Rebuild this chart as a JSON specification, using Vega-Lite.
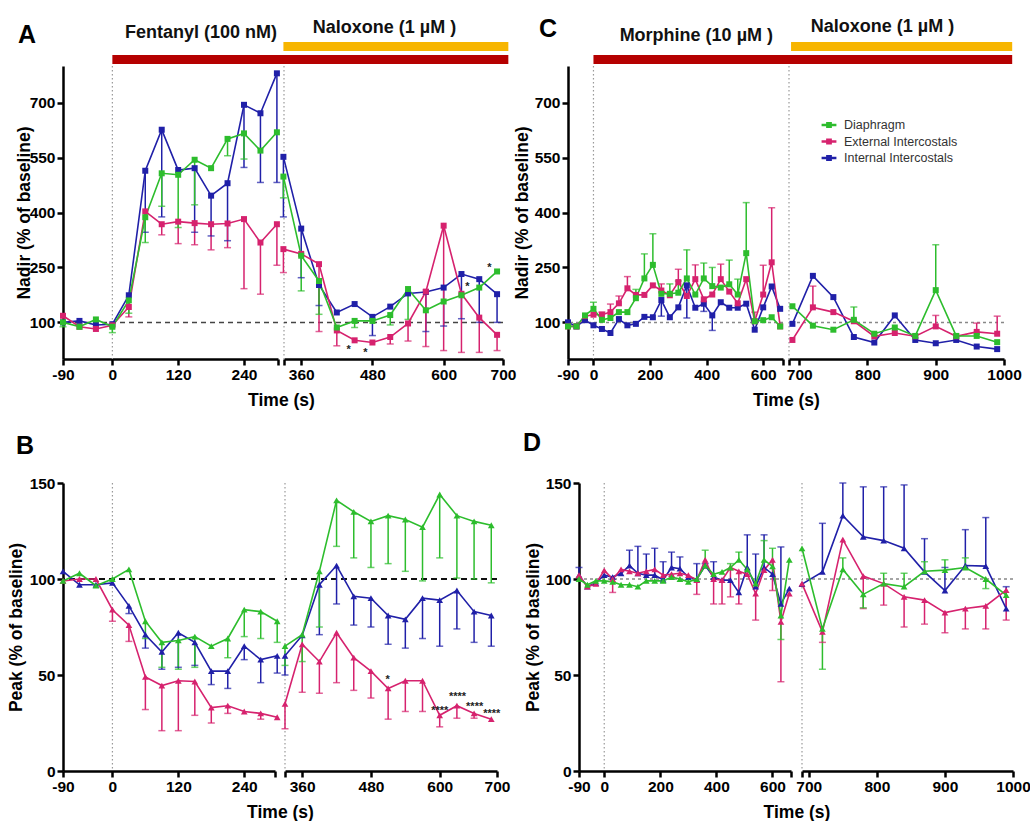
{
"$schema":"https://vega.github.io/schema/vega-lite/v6.json",
"background":"white",
"padding":{"left":7,"top":17,"right":0,"bottom":0},
"bounds":"flush",
"align":"each",
"columns":7,
"spacing":{"row":0,"column":0},
"config":{
 "view":{"stroke":null},
 "font":"Liberation Sans",
 "title":{"font":"Liberation Sans"},
 "axis":{"domainColor":"#000","domainWidth":2.5,"tickColor":"#000","tickWidth":2.5,"tickSize":6,"labelFont":"Liberation Sans","labelFontSize":15.5,"labelFontWeight":"bold","labelColor":"#000","titleFont":"Liberation Sans","titleFontSize":17.5,"titleFontWeight":"bold","titleColor":"#000","grid":false,"labelPadding":2,"labelFlush":false,"labelOverlap":false}
},
"datasets":{
"bars":[
{"p":"A1","drug":"Opioid","start":0,"end":313},
{"p":"A2","drug":"Opioid","start":320,"end":709},
{"p":"A2","drug":"Naloxone","start":330,"end":709},
{"p":"C1","drug":"Opioid","start":0,"end":692},
{"p":"C2","drug":"Opioid","start":676,"end":1012},
{"p":"C2","drug":"Naloxone","start":688,"end":1012}
],
"stars":[
{"p":"A2","t":440,"v":33,"s":"*"},{"p":"A2","t":468,"v":24,"s":"*"},{"p":"A2","t":640,"v":206,"s":"*"},{"p":"A2","t":677,"v":257,"s":"*"},
{"p":"B2","t":509,"v":49,"s":"*"},{"p":"B2","t":600,"v":33,"s":"****"},{"p":"B2","t":631,"v":40,"s":"****"},{"p":"B2","t":661,"v":35,"s":"****"},{"p":"B2","t":691,"v":31,"s":"****"}
],
"d":[
{"p":"A1","t":-90,"m":"I","v":100},{"p":"A1","t":-90,"m":"E","v":118},{"p":"A1","t":-90,"m":"D","v":100,"e":88},
{"p":"A1","t":-60,"m":"I","v":104},{"p":"A1","t":-60,"m":"E","v":88},{"p":"A1","t":-60,"m":"D","v":88},
{"p":"A1","t":-30,"m":"I","v":93},{"p":"A1","t":-30,"m":"E","v":82},{"p":"A1","t":-30,"m":"D","v":108},
{"p":"A1","t":0,"m":"I","v":95},{"p":"A1","t":0,"m":"E","v":92},{"p":"A1","t":0,"m":"D","v":88,"e":72},
{"p":"A1","t":30,"m":"I","v":174},{"p":"A1","t":30,"m":"E","v":142,"e":115},{"p":"A1","t":30,"m":"D","v":160,"e":125},
{"p":"A1","t":60,"m":"I","v":514,"e":346},{"p":"A1","t":60,"m":"E","v":403},{"p":"A1","t":60,"m":"D","v":387,"e":318},
{"p":"A1","t":90,"m":"I","v":626,"e":388},{"p":"A1","t":90,"m":"E","v":368,"e":339},{"p":"A1","t":90,"m":"D","v":507,"e":417},
{"p":"A1","t":120,"m":"I","v":516},{"p":"A1","t":120,"m":"E","v":375,"e":315},{"p":"A1","t":120,"m":"D","v":503,"e":359},
{"p":"A1","t":150,"m":"I","v":521,"e":346},{"p":"A1","t":150,"m":"E","v":371,"e":312},{"p":"A1","t":150,"m":"D","v":544,"e":421},
{"p":"A1","t":180,"m":"I","v":446,"e":336},{"p":"A1","t":180,"m":"E","v":368,"e":298},{"p":"A1","t":180,"m":"D","v":521},
{"p":"A1","t":210,"m":"I","v":480,"e":323},{"p":"A1","t":210,"m":"E","v":370,"e":304},{"p":"A1","t":210,"m":"D","v":601,"e":555},
{"p":"A1","t":240,"m":"I","v":694,"e":523},{"p":"A1","t":240,"m":"E","v":382,"e":192},{"p":"A1","t":240,"m":"D","v":616,"e":546},
{"p":"A1","t":270,"m":"I","v":671,"e":482},{"p":"A1","t":270,"m":"E","v":318,"e":177},{"p":"A1","t":270,"m":"D","v":569},
{"p":"A1","t":300,"m":"I","v":780,"e":482},{"p":"A1","t":300,"m":"E","v":368,"e":256},{"p":"A1","t":300,"m":"D","v":619},
{"p":"A2","t":330,"m":"I","v":552,"e":388},{"p":"A2","t":330,"m":"E","v":300,"e":236},{"p":"A2","t":330,"m":"D","v":498,"e":440},
{"p":"A2","t":360,"m":"I","v":356,"e":222},{"p":"A2","t":360,"m":"E","v":287},{"p":"A2","t":360,"m":"D","v":282,"e":186},
{"p":"A2","t":390,"m":"I","v":202,"e":146},{"p":"A2","t":390,"m":"E","v":259,"e":75},{"p":"A2","t":390,"m":"D","v":213,"e":122},
{"p":"A2","t":420,"m":"I","v":127},{"p":"A2","t":420,"m":"E","v":78,"e":36},{"p":"A2","t":420,"m":"D","v":86},
{"p":"A2","t":450,"m":"I","v":150},{"p":"A2","t":450,"m":"E","v":51},{"p":"A2","t":450,"m":"D","v":104,"e":86},
{"p":"A2","t":480,"m":"I","v":115,"e":64},{"p":"A2","t":480,"m":"E","v":45},{"p":"A2","t":480,"m":"D","v":104},
{"p":"A2","t":510,"m":"I","v":143},{"p":"A2","t":510,"m":"E","v":60,"e":41},{"p":"A2","t":510,"m":"D","v":120,"e":93},
{"p":"A2","t":540,"m":"I","v":179},{"p":"A2","t":540,"m":"E","v":97,"e":49},{"p":"A2","t":540,"m":"D","v":191,"e":108},
{"p":"A2","t":570,"m":"I","v":183,"e":75},{"p":"A2","t":570,"m":"E","v":184,"e":34},{"p":"A2","t":570,"m":"D","v":133},
{"p":"A2","t":600,"m":"I","v":195,"e":90},{"p":"A2","t":600,"m":"E","v":364,"e":23},{"p":"A2","t":600,"m":"D","v":157},
{"p":"A2","t":630,"m":"I","v":232,"e":110},{"p":"A2","t":630,"m":"E","v":178,"e":18},{"p":"A2","t":630,"m":"D","v":174},
{"p":"A2","t":660,"m":"I","v":218,"e":100},{"p":"A2","t":660,"m":"E","v":113,"e":18},{"p":"A2","t":660,"m":"D","v":195},
{"p":"A2","t":690,"m":"I","v":177,"e":100},{"p":"A2","t":690,"m":"E","v":66,"e":23},{"p":"A2","t":690,"m":"D","v":239},
{"p":"B1","t":-90,"m":"I","v":104},{"p":"B1","t":-90,"m":"E","v":99},{"p":"B1","t":-90,"m":"D","v":99},
{"p":"B1","t":-60,"m":"I","v":97},{"p":"B1","t":-60,"m":"E","v":100},{"p":"B1","t":-60,"m":"D","v":103},
{"p":"B1","t":-30,"m":"I","v":97},{"p":"B1","t":-30,"m":"E","v":100},{"p":"B1","t":-30,"m":"D","v":96.5},
{"p":"B1","t":0,"m":"I","v":98},{"p":"B1","t":0,"m":"E","v":84,"e":78},{"p":"B1","t":0,"m":"D","v":100},
{"p":"B1","t":30,"m":"I","v":86,"e":82},{"p":"B1","t":30,"m":"E","v":76,"e":67.5},{"p":"B1","t":30,"m":"D","v":105},
{"p":"B1","t":60,"m":"I","v":71,"e":64},{"p":"B1","t":60,"m":"E","v":49,"e":32},{"p":"B1","t":60,"m":"D","v":78,"e":69},
{"p":"B1","t":90,"m":"I","v":62,"e":53},{"p":"B1","t":90,"m":"E","v":44.5,"e":21},{"p":"B1","t":90,"m":"D","v":67,"e":54},
{"p":"B1","t":120,"m":"I","v":72,"e":54},{"p":"B1","t":120,"m":"E","v":47,"e":21},{"p":"B1","t":120,"m":"D","v":68,"e":53},
{"p":"B1","t":150,"m":"I","v":67,"e":55},{"p":"B1","t":150,"m":"E","v":46.6,"e":29},{"p":"B1","t":150,"m":"D","v":70,"e":54},
{"p":"B1","t":180,"m":"I","v":52,"e":45},{"p":"B1","t":180,"m":"E","v":33,"e":25},{"p":"B1","t":180,"m":"D","v":65},
{"p":"B1","t":210,"m":"I","v":52,"e":43},{"p":"B1","t":210,"m":"E","v":34,"e":30},{"p":"B1","t":210,"m":"D","v":69,"e":59},
{"p":"B1","t":240,"m":"I","v":65,"e":58},{"p":"B1","t":240,"m":"E","v":31},{"p":"B1","t":240,"m":"D","v":84,"e":70},
{"p":"B1","t":270,"m":"I","v":58,"e":46},{"p":"B1","t":270,"m":"E","v":30,"e":27},{"p":"B1","t":270,"m":"D","v":83,"e":69},
{"p":"B1","t":300,"m":"I","v":60,"e":51},{"p":"B1","t":300,"m":"E","v":28},{"p":"B1","t":300,"m":"D","v":78,"e":67},
{"p":"B2","t":330,"m":"I","v":60,"e":50},{"p":"B2","t":330,"m":"E","v":35,"e":22},{"p":"B2","t":330,"m":"D","v":65,"e":55},
{"p":"B2","t":360,"m":"I","v":70.6},{"p":"B2","t":360,"m":"E","v":66,"e":41},{"p":"B2","t":360,"m":"D","v":71,"e":57},
{"p":"B2","t":390,"m":"I","v":97,"e":71},{"p":"B2","t":390,"m":"E","v":57,"e":40.5},{"p":"B2","t":390,"m":"D","v":104,"e":75},
{"p":"B2","t":420,"m":"I","v":107,"e":87},{"p":"B2","t":420,"m":"E","v":72,"e":46},{"p":"B2","t":420,"m":"D","v":141,"e":117},
{"p":"B2","t":450,"m":"I","v":91,"e":76},{"p":"B2","t":450,"m":"E","v":59,"e":42},{"p":"B2","t":450,"m":"D","v":135,"e":111},
{"p":"B2","t":480,"m":"I","v":90,"e":75},{"p":"B2","t":480,"m":"E","v":52,"e":38},{"p":"B2","t":480,"m":"D","v":130,"e":106},
{"p":"B2","t":510,"m":"I","v":81,"e":66},{"p":"B2","t":510,"m":"E","v":43,"e":27},{"p":"B2","t":510,"m":"D","v":133,"e":108},
{"p":"B2","t":540,"m":"I","v":79,"e":64},{"p":"B2","t":540,"m":"E","v":47,"e":31},{"p":"B2","t":540,"m":"D","v":131,"e":104},
{"p":"B2","t":570,"m":"I","v":90,"e":69},{"p":"B2","t":570,"m":"E","v":47,"e":31},{"p":"B2","t":570,"m":"D","v":127,"e":99},
{"p":"B2","t":600,"m":"I","v":89,"e":65},{"p":"B2","t":600,"m":"E","v":29,"e":23},{"p":"B2","t":600,"m":"D","v":144,"e":111},
{"p":"B2","t":630,"m":"I","v":94,"e":74},{"p":"B2","t":630,"m":"E","v":34,"e":27.5},{"p":"B2","t":630,"m":"D","v":133,"e":100.5},
{"p":"B2","t":660,"m":"I","v":83,"e":67},{"p":"B2","t":660,"m":"E","v":30,"e":27.5},{"p":"B2","t":660,"m":"D","v":130,"e":100},
{"p":"B2","t":690,"m":"I","v":81,"e":65},{"p":"B2","t":690,"m":"E","v":27},{"p":"B2","t":690,"m":"D","v":128,"e":98},
{"p":"C1","t":-90,"m":"I","v":100},{"p":"C1","t":-90,"m":"E","v":89},{"p":"C1","t":-90,"m":"D","v":89},
{"p":"C1","t":-60,"m":"I","v":89},{"p":"C1","t":-60,"m":"E","v":89},{"p":"C1","t":-60,"m":"D","v":89},
{"p":"C1","t":-30,"m":"I","v":106},{"p":"C1","t":-30,"m":"E","v":117},{"p":"C1","t":-30,"m":"D","v":119},
{"p":"C1","t":0,"m":"I","v":92},{"p":"C1","t":0,"m":"E","v":121},{"p":"C1","t":0,"m":"D","v":137,"e":155},
{"p":"C1","t":30,"m":"I","v":82},{"p":"C1","t":30,"m":"E","v":121,"e":128},{"p":"C1","t":30,"m":"D","v":107},
{"p":"C1","t":60,"m":"I","v":71},{"p":"C1","t":60,"m":"E","v":128,"e":150},{"p":"C1","t":60,"m":"D","v":112},
{"p":"C1","t":90,"m":"I","v":109},{"p":"C1","t":90,"m":"E","v":152,"e":172},{"p":"C1","t":90,"m":"D","v":128},
{"p":"C1","t":120,"m":"I","v":92},{"p":"C1","t":120,"m":"E","v":193,"e":225},{"p":"C1","t":120,"m":"D","v":128},
{"p":"C1","t":150,"m":"I","v":96},{"p":"C1","t":150,"m":"E","v":175},{"p":"C1","t":150,"m":"D","v":166,"e":190},
{"p":"C1","t":180,"m":"I","v":115},{"p":"C1","t":180,"m":"E","v":175},{"p":"C1","t":180,"m":"D","v":220,"e":287},
{"p":"C1","t":210,"m":"I","v":114},{"p":"C1","t":210,"m":"E","v":201},{"p":"C1","t":210,"m":"D","v":257,"e":342},
{"p":"C1","t":240,"m":"I","v":161,"e":117},{"p":"C1","t":240,"m":"E","v":187,"e":205},{"p":"C1","t":240,"m":"D","v":178},
{"p":"C1","t":270,"m":"I","v":114},{"p":"C1","t":270,"m":"E","v":174},{"p":"C1","t":270,"m":"D","v":178,"e":205},
{"p":"C1","t":300,"m":"I","v":141},{"p":"C1","t":300,"m":"E","v":210,"e":245},{"p":"C1","t":300,"m":"D","v":181,"e":213},
{"p":"C1","t":330,"m":"I","v":201,"e":112},{"p":"C1","t":330,"m":"E","v":172},{"p":"C1","t":330,"m":"D","v":220,"e":298},
{"p":"C1","t":360,"m":"I","v":140},{"p":"C1","t":360,"m":"E","v":218,"e":257},{"p":"C1","t":360,"m":"D","v":176},
{"p":"C1","t":390,"m":"I","v":151,"e":130},{"p":"C1","t":390,"m":"E","v":163},{"p":"C1","t":390,"m":"D","v":220,"e":262},
{"p":"C1","t":420,"m":"I","v":119,"e":78},{"p":"C1","t":420,"m":"E","v":176},{"p":"C1","t":420,"m":"D","v":199,"e":250},
{"p":"C1","t":450,"m":"I","v":155},{"p":"C1","t":450,"m":"E","v":218,"e":259},{"p":"C1","t":450,"m":"D","v":195},
{"p":"C1","t":480,"m":"I","v":140},{"p":"C1","t":480,"m":"E","v":184},{"p":"C1","t":480,"m":"D","v":204,"e":270},
{"p":"C1","t":510,"m":"I","v":140},{"p":"C1","t":510,"m":"E","v":152},{"p":"C1","t":510,"m":"D","v":176,"e":218},
{"p":"C1","t":540,"m":"I","v":151},{"p":"C1","t":540,"m":"E","v":218},{"p":"C1","t":540,"m":"D","v":289,"e":427},
{"p":"C1","t":570,"m":"I","v":80},{"p":"C1","t":570,"m":"E","v":103,"e":128},{"p":"C1","t":570,"m":"D","v":103},
{"p":"C1","t":600,"m":"I","v":141},{"p":"C1","t":600,"m":"E","v":176,"e":256},{"p":"C1","t":600,"m":"D","v":106},
{"p":"C1","t":630,"m":"I","v":198},{"p":"C1","t":630,"m":"E","v":264,"e":413},{"p":"C1","t":630,"m":"D","v":114},
{"p":"C1","t":660,"m":"I","v":137},{"p":"C1","t":660,"m":"E","v":89},{"p":"C1","t":660,"m":"D","v":89},
{"p":"C2","t":690,"m":"I","v":96},{"p":"C2","t":690,"m":"E","v":52},{"p":"C2","t":690,"m":"D","v":144},
{"p":"C2","t":720,"m":"I","v":227},{"p":"C2","t":720,"m":"E","v":141,"e":199},{"p":"C2","t":720,"m":"D","v":91},
{"p":"C2","t":750,"m":"I","v":169},{"p":"C2","t":750,"m":"E","v":128},{"p":"C2","t":750,"m":"D","v":80},
{"p":"C2","t":780,"m":"I","v":60},{"p":"C2","t":780,"m":"E","v":103},{"p":"C2","t":780,"m":"D","v":107,"e":142},
{"p":"C2","t":810,"m":"I","v":45},{"p":"C2","t":810,"m":"E","v":62},{"p":"C2","t":810,"m":"D","v":69},
{"p":"C2","t":840,"m":"I","v":119},{"p":"C2","t":840,"m":"E","v":71},{"p":"C2","t":840,"m":"D","v":86},
{"p":"C2","t":870,"m":"I","v":52},{"p":"C2","t":870,"m":"E","v":62},{"p":"C2","t":870,"m":"D","v":63},
{"p":"C2","t":900,"m":"I","v":43},{"p":"C2","t":900,"m":"E","v":89,"e":119},{"p":"C2","t":900,"m":"D","v":188,"e":312},
{"p":"C2","t":930,"m":"I","v":52},{"p":"C2","t":930,"m":"E","v":62},{"p":"C2","t":930,"m":"D","v":63},
{"p":"C2","t":960,"m":"I","v":34},{"p":"C2","t":960,"m":"E","v":74,"e":98},{"p":"C2","t":960,"m":"D","v":63},
{"p":"C2","t":990,"m":"I","v":27},{"p":"C2","t":990,"m":"E","v":69,"e":117},{"p":"C2","t":990,"m":"D","v":46},
{"p":"D1","t":-90,"m":"I","v":102,"e":106},{"p":"D1","t":-90,"m":"E","v":102},{"p":"D1","t":-90,"m":"D","v":100},
{"p":"D1","t":-60,"m":"I","v":96},{"p":"D1","t":-60,"m":"E","v":96},{"p":"D1","t":-60,"m":"D","v":97},
{"p":"D1","t":-30,"m":"I","v":98},{"p":"D1","t":-30,"m":"E","v":97.5},{"p":"D1","t":-30,"m":"D","v":99},
{"p":"D1","t":0,"m":"I","v":102},{"p":"D1","t":0,"m":"E","v":104.5},{"p":"D1","t":0,"m":"D","v":99},
{"p":"D1","t":30,"m":"I","v":101},{"p":"D1","t":30,"m":"E","v":100,"e":93},{"p":"D1","t":30,"m":"D","v":98.5},
{"p":"D1","t":60,"m":"I","v":103},{"p":"D1","t":60,"m":"E","v":105},{"p":"D1","t":60,"m":"D","v":97},
{"p":"D1","t":90,"m":"I","v":107,"e":115},{"p":"D1","t":90,"m":"E","v":104},{"p":"D1","t":90,"m":"D","v":97},
{"p":"D1","t":120,"m":"I","v":103,"e":117},{"p":"D1","t":120,"m":"E","v":103},{"p":"D1","t":120,"m":"D","v":96},
{"p":"D1","t":150,"m":"I","v":102,"e":113},{"p":"D1","t":150,"m":"E","v":104},{"p":"D1","t":150,"m":"D","v":99},
{"p":"D1","t":180,"m":"I","v":102,"e":116},{"p":"D1","t":180,"m":"E","v":105},{"p":"D1","t":180,"m":"D","v":99},
{"p":"D1","t":210,"m":"I","v":99.5,"e":109},{"p":"D1","t":210,"m":"E","v":102},{"p":"D1","t":210,"m":"D","v":99},
{"p":"D1","t":240,"m":"I","v":106,"e":114},{"p":"D1","t":240,"m":"E","v":102.5},{"p":"D1","t":240,"m":"D","v":101},
{"p":"D1","t":270,"m":"I","v":105.4,"e":111.5},{"p":"D1","t":270,"m":"E","v":103},{"p":"D1","t":270,"m":"D","v":100},
{"p":"D1","t":300,"m":"I","v":101},{"p":"D1","t":300,"m":"E","v":102},{"p":"D1","t":300,"m":"D","v":98.5},
{"p":"D1","t":330,"m":"I","v":99.8,"e":108},{"p":"D1","t":330,"m":"E","v":99.4,"e":92},{"p":"D1","t":330,"m":"D","v":100},
{"p":"D1","t":360,"m":"I","v":107,"e":108},{"p":"D1","t":360,"m":"E","v":110},{"p":"D1","t":360,"m":"D","v":107,"e":115},
{"p":"D1","t":390,"m":"I","v":101,"e":109},{"p":"D1","t":390,"m":"E","v":100,"e":87},{"p":"D1","t":390,"m":"D","v":102.5},
{"p":"D1","t":420,"m":"I","v":99.4},{"p":"D1","t":420,"m":"E","v":99.4,"e":87},{"p":"D1","t":420,"m":"D","v":103.7},
{"p":"D1","t":450,"m":"I","v":99.4},{"p":"D1","t":450,"m":"E","v":106,"e":90.7},{"p":"D1","t":450,"m":"D","v":106,"e":108},
{"p":"D1","t":480,"m":"I","v":93},{"p":"D1","t":480,"m":"E","v":104,"e":87},{"p":"D1","t":480,"m":"D","v":110,"e":114},
{"p":"D1","t":510,"m":"I","v":106,"e":123},{"p":"D1","t":510,"m":"E","v":102.5},{"p":"D1","t":510,"m":"D","v":105},
{"p":"D1","t":540,"m":"I","v":96,"e":113},{"p":"D1","t":540,"m":"E","v":92.4,"e":78.6},{"p":"D1","t":540,"m":"D","v":97.6},
{"p":"D1","t":570,"m":"I","v":106,"e":123},{"p":"D1","t":570,"m":"E","v":104.6},{"p":"D1","t":570,"m":"D","v":110,"e":120},
{"p":"D1","t":600,"m":"I","v":102.5},{"p":"D1","t":600,"m":"E","v":110,"e":94},{"p":"D1","t":600,"m":"D","v":106.6,"e":116},
{"p":"D1","t":630,"m":"I","v":87,"e":116.7},{"p":"D1","t":630,"m":"E","v":77.7,"e":46.5},{"p":"D1","t":630,"m":"D","v":81,"e":68.5},
{"p":"D1","t":660,"m":"I","v":95},{"p":"D1","t":660,"m":"E","v":92.4},{"p":"D1","t":660,"m":"D","v":110},
{"p":"D2","t":690,"m":"I","v":97.3},{"p":"D2","t":690,"m":"E","v":97.6},{"p":"D2","t":690,"m":"D","v":116},
{"p":"D2","t":720,"m":"I","v":103.7,"e":129},{"p":"D2","t":720,"m":"E","v":72.5,"e":67},{"p":"D2","t":720,"m":"D","v":74,"e":53},
{"p":"D2","t":750,"m":"I","v":133,"e":150},{"p":"D2","t":750,"m":"E","v":120.5},{"p":"D2","t":750,"m":"D","v":105,"e":111},
{"p":"D2","t":780,"m":"I","v":122,"e":148},{"p":"D2","t":780,"m":"E","v":101.5,"e":84.6},{"p":"D2","t":780,"m":"D","v":92,"e":85},
{"p":"D2","t":810,"m":"I","v":120,"e":148},{"p":"D2","t":810,"m":"E","v":97.6,"e":86.4},{"p":"D2","t":810,"m":"D","v":97.6,"e":103},
{"p":"D2","t":840,"m":"I","v":116,"e":149},{"p":"D2","t":840,"m":"E","v":90.7,"e":75},{"p":"D2","t":840,"m":"D","v":96,"e":103},
{"p":"D2","t":870,"m":"I","v":103.7,"e":121},{"p":"D2","t":870,"m":"E","v":89,"e":76.5},{"p":"D2","t":870,"m":"D","v":104,"e":109},
{"p":"D2","t":900,"m":"I","v":94,"e":106},{"p":"D2","t":900,"m":"E","v":82.5,"e":72},{"p":"D2","t":900,"m":"D","v":104.6,"e":110},
{"p":"D2","t":930,"m":"I","v":107,"e":125.7},{"p":"D2","t":930,"m":"E","v":84.6,"e":74},{"p":"D2","t":930,"m":"D","v":106,"e":111},
{"p":"D2","t":960,"m":"I","v":106.7,"e":132},{"p":"D2","t":960,"m":"E","v":86,"e":74},{"p":"D2","t":960,"m":"D","v":100,"e":95},
{"p":"D2","t":990,"m":"I","v":84.6,"e":96},{"p":"D2","t":990,"m":"E","v":94.2,"e":78.6},{"p":"D2","t":990,"m":"D","v":91.6}
]
},
"concat":[
   {"width":215,"height":22,
    "title":{"text":"Fentanyl (100  nM)","anchor":"end","frame":"group","dx":-1,"offset":-14,"baseline":"alphabetic","fontSize":18,"fontWeight":"bold","color":"#111"},
    "data":{"name":"bars"},"transform":[{"filter":"datum.p=='A1'"}],
    "mark":{"type":"bar"},
    "encoding":{"x":{"field":"start","type":"quantitative","scale":{"domain":[-90,302],"nice":false,"zero":false},"axis":null},"x2":{"field":"end"},
     "y":{"field":"drug","type":"nominal","scale":{"domain":["Naloxone","Opioid"],"paddingInner":0.31,"paddingOuter":0},"axis":null},
     "fill":{"field":"drug","type":"nominal","scale":{"domain":["Naloxone","Opioid"],"range":["#F7B500","#B50000"]},"legend":null}}},
   {"width":6,"height":22,"data":{"values":[{}]},"mark":{"type":"text","text":""}},
   {"width":219,"height":22,
    "title":{"text":"Naloxone (1 µM )","anchor":"middle","frame":"group","dx":-9,"offset":-9,"baseline":"alphabetic","fontSize":18,"fontWeight":"bold","color":"#111"},
    "data":{"name":"bars"},"transform":[{"filter":"datum.p=='A2'"}],
    "mark":{"type":"bar"},
    "encoding":{"x":{"field":"start","type":"quantitative","scale":{"domain":[331,700],"nice":false,"zero":false},"axis":null},"x2":{"field":"end"},
     "y":{"field":"drug","type":"nominal","scale":{"domain":["Naloxone","Opioid"],"paddingInner":0.31,"paddingOuter":0},"axis":null},
     "fill":{"field":"drug","type":"nominal","legend":null}}},
   {"width":65,"height":22,"data":{"values":[{}]},"mark":{"type":"text","text":""}},
   {"width":215,"height":22,
    "title":{"text":"Morphine (10 µM )","anchor":"end","frame":"group","dx":-10,"offset":-17,"baseline":"alphabetic","fontSize":18,"fontWeight":"bold","color":"#111"},
    "data":{"name":"bars"},"transform":[{"filter":"datum.p=='C1'"}],
    "mark":{"type":"bar"},
    "encoding":{"x":{"field":"start","type":"quantitative","scale":{"domain":[-90,670],"nice":false,"zero":false},"axis":null},"x2":{"field":"end"},
     "y":{"field":"drug","type":"nominal","scale":{"domain":["Naloxone","Opioid"],"paddingInner":0.31,"paddingOuter":0},"axis":null},
     "fill":{"field":"drug","type":"nominal","legend":null}}},
   {"width":6,"height":22,"data":{"values":[{}]},"mark":{"type":"text","text":""}},
   {"width":215,"height":22,
    "title":{"text":"Naloxone (1 µM )","anchor":"middle","frame":"group","dx":-14,"offset":-8,"baseline":"alphabetic","fontSize":18,"fontWeight":"bold","color":"#111"},
    "data":{"name":"bars"},"transform":[{"filter":"datum.p=='C2'"}],
    "mark":{"type":"bar"},
    "encoding":{"x":{"field":"start","type":"quantitative","scale":{"domain":[685,1000],"nice":false,"zero":false},"axis":null},"x2":{"field":"end"},
     "y":{"field":"drug","type":"nominal","scale":{"domain":["Naloxone","Opioid"],"paddingInner":0.31,"paddingOuter":0},"axis":null},
     "fill":{"field":"drug","type":"nominal","legend":null}}},

   {"width":215,"height":2,"data":{"values":[{}]},"mark":{"type":"text","text":""}},
   {"width":6,"height":2,"data":{"values":[{}]},"mark":{"type":"text","text":""}},
   {"width":219,"height":2,"data":{"values":[{}]},"mark":{"type":"text","text":""}},
   {"width":65,"height":2,"data":{"values":[{}]},"mark":{"type":"text","text":""}},
   {"width":215,"height":2,"data":{"values":[{}]},"mark":{"type":"text","text":""}},
   {"width":6,"height":2,"data":{"values":[{}]},"mark":{"type":"text","text":""}},
   {"width":215,"height":2,"data":{"values":[{}]},"mark":{"type":"text","text":""}},

   {"width":215,"height":293,
    "title":{"text":"A","anchor":"start","frame":"group","dx":-45,"offset":-3,"baseline":"alphabetic","fontSize":25,"fontWeight":"bold","color":"#000"},
    "resolve":{"axis":{"x":"independent","y":"independent"}},
    "layer":[
     {"data":{"values":[{}]},"mark":{"type":"rule","color":"#999","strokeDash":[1.5,2.5],"strokeWidth":1.2},"encoding":{"x":{"datum":0,"type":"quantitative","scale":{"domain":[-90,302],"nice":false,"zero":false},"axis":null}}},
     {"data":{"values":[{}]},"mark":{"type":"rule","color":"#444","strokeDash":[5,4],"strokeWidth":1.5},"encoding":{"y":{"datum":100,"type":"quantitative","scale":{"domain":[0,800],"nice":false},"axis":null}}},
     {"data":{"name":"d"},"transform":[{"filter":"datum.p=='A1' && isValid(datum.e)"}],"mark":{"type":"rule","strokeWidth":1.5},
      "encoding":{"x":{"field":"t","type":"quantitative","axis":null},"y":{"field":"v","type":"quantitative","axis":null},"y2":{"field":"e"},
       "color":{"field":"m","type":"nominal","scale":{"domain":["D","E","I"],"range":["#2DBD2D","#D6226E","#2020A8"]},
        "legend":{"orient":"none","legendX":757,"legendY":74,"title":null,"labelExpr":"datum.label == 'D' ? 'Diaphragm' : datum.label == 'E' ? 'External Intercostals' : 'Internal Intercostals'","symbolType":"M-1,0H1M-0.22,-0.22H0.22V0.22H-0.22Z","symbolSize":220,"symbolStrokeWidth":2.5,"labelFontSize":12.5,"labelFont":"Liberation Sans","labelFontWeight":"normal","labelColor":"#333","rowPadding":0.5,"labelOffset":6}}}},
     {"data":{"name":"d"},"transform":[{"filter":"datum.p=='A1' && isValid(datum.e)"}],"mark":{"type":"tick","orient":"horizontal","size":7,"thickness":1.5},
      "encoding":{"x":{"field":"t","type":"quantitative","axis":null},"y":{"field":"e","type":"quantitative","axis":null},"color":{"field":"m","type":"nominal","legend":null}}},
     {"data":{"name":"d"},"transform":[{"filter":"datum.p=='A1'"}],"mark":{"type":"line","strokeWidth":1.6},
      "encoding":{"x":{"field":"t","type":"quantitative","axis":null},"y":{"field":"v","type":"quantitative","axis":null},"color":{"field":"m","type":"nominal","legend":null}}},
     {"data":{"name":"d"},"transform":[{"filter":"datum.p=='A1'"}],"mark":{"type":"point","shape":"square","filled":true,"size":36,"opacity":1},
      "encoding":{"x":{"field":"t","type":"quantitative","scale":{"domain":[-90,302],"nice":false,"zero":false},"axis":{"values":[-90,0,120,240,302],"labelExpr":"datum.value > 300 ? '' : '' + datum.value","title":"Time (s)","titleX":218,"titleY":41,"titleAlign":"center","titleBaseline":"middle"}},
       "y":{"field":"v","type":"quantitative","scale":{"domain":[0,800],"nice":false},"axis":{"values":[100,250,400,550,700],"title":"Nadir (% of baseline)","titlePadding":-4}},
       "color":{"field":"m","type":"nominal","legend":null}}}
    ]},
   {"width":6,"height":293,"data":{"values":[{}]},"mark":{"type":"text","text":""}},
   {"width":219,"height":293,
    "resolve":{"axis":{"x":"independent","y":"independent"}},
    "layer":[
     {"data":{"values":[{}]},"mark":{"type":"rule","color":"#999","strokeDash":[1.5,2.5],"strokeWidth":1.2},"encoding":{"x":{"datum":331,"type":"quantitative","scale":{"domain":[331,700],"nice":false,"zero":false},"axis":null}}},
     {"data":{"values":[{}]},"mark":{"type":"rule","color":"#444","strokeDash":[5,4],"strokeWidth":1.5},"encoding":{"y":{"datum":100,"type":"quantitative","scale":{"domain":[0,800],"nice":false},"axis":null}}},
     {"data":{"name":"d"},"transform":[{"filter":"datum.p=='A2' && isValid(datum.e)"}],"mark":{"type":"rule","strokeWidth":1.5},
      "encoding":{"x":{"field":"t","type":"quantitative","axis":null},"y":{"field":"v","type":"quantitative","axis":null},"y2":{"field":"e"},"color":{"field":"m","type":"nominal","legend":null}}},
     {"data":{"name":"d"},"transform":[{"filter":"datum.p=='A2' && isValid(datum.e)"}],"mark":{"type":"tick","orient":"horizontal","size":7,"thickness":1.5},
      "encoding":{"x":{"field":"t","type":"quantitative","axis":null},"y":{"field":"e","type":"quantitative","axis":null},"color":{"field":"m","type":"nominal","legend":null}}},
     {"data":{"name":"d"},"transform":[{"filter":"datum.p=='A2'"}],"mark":{"type":"line","strokeWidth":1.6},
      "encoding":{"x":{"field":"t","type":"quantitative","axis":null},"y":{"field":"v","type":"quantitative","axis":null},"color":{"field":"m","type":"nominal","legend":null}}},
     {"data":{"name":"stars"},"transform":[{"filter":"datum.p=='A2'"}],"mark":{"type":"text","fontSize":11,"fontWeight":"bold","color":"#222","baseline":"alphabetic","dy":6},
      "encoding":{"x":{"field":"t","type":"quantitative","axis":null},"y":{"field":"v","type":"quantitative","axis":null},"text":{"field":"s"}}},
     {"data":{"name":"d"},"transform":[{"filter":"datum.p=='A2'"}],"mark":{"type":"point","shape":"square","filled":true,"size":36,"opacity":1},
      "encoding":{"x":{"field":"t","type":"quantitative","scale":{"domain":[331,700],"nice":false,"zero":false},"axis":{"values":[331,360,480,600,700],"labelExpr":"datum.value < 340 ? '' : '' + datum.value","title":null}},
       "y":{"field":"v","type":"quantitative","axis":null},"color":{"field":"m","type":"nominal","legend":null}}}
    ]},
   {"width":65,"height":293,"data":{"values":[{}]},"mark":{"type":"text","text":""}},
   {"width":215,"height":293,
    "title":{"text":"C","anchor":"start","frame":"group","dx":-29,"offset":3,"baseline":"alphabetic","fontSize":25,"fontWeight":"bold","color":"#000"},
    "resolve":{"axis":{"x":"independent","y":"independent"}},
    "layer":[
     {"data":{"values":[{}]},"mark":{"type":"rule","color":"#999","strokeDash":[1.5,2.5],"strokeWidth":1.2},"encoding":{"x":{"datum":0,"type":"quantitative","scale":{"domain":[-90,670],"nice":false,"zero":false},"axis":null}}},
     {"data":{"values":[{}]},"mark":{"type":"rule","color":"#888","strokeDash":[3,3],"strokeWidth":1.5},"encoding":{"y":{"datum":100,"type":"quantitative","scale":{"domain":[0,800],"nice":false},"axis":null}}},
     {"data":{"name":"d"},"transform":[{"filter":"datum.p=='C1' && isValid(datum.e)"}],"mark":{"type":"rule","strokeWidth":1.5},
      "encoding":{"x":{"field":"t","type":"quantitative","axis":null},"y":{"field":"v","type":"quantitative","axis":null},"y2":{"field":"e"},"color":{"field":"m","type":"nominal","legend":null}}},
     {"data":{"name":"d"},"transform":[{"filter":"datum.p=='C1' && isValid(datum.e)"}],"mark":{"type":"tick","orient":"horizontal","size":7,"thickness":1.5},
      "encoding":{"x":{"field":"t","type":"quantitative","axis":null},"y":{"field":"e","type":"quantitative","axis":null},"color":{"field":"m","type":"nominal","legend":null}}},
     {"data":{"name":"d"},"transform":[{"filter":"datum.p=='C1'"}],"mark":{"type":"line","strokeWidth":1.6},
      "encoding":{"x":{"field":"t","type":"quantitative","axis":null},"y":{"field":"v","type":"quantitative","axis":null},"color":{"field":"m","type":"nominal","legend":null}}},
     {"data":{"name":"d"},"transform":[{"filter":"datum.p=='C1'"}],"mark":{"type":"point","shape":"square","filled":true,"size":36,"opacity":1},
      "encoding":{"x":{"field":"t","type":"quantitative","scale":{"domain":[-90,670],"nice":false,"zero":false},"axis":{"values":[-90,0,200,400,600,670],"labelExpr":"datum.value > 650 ? '' : '' + datum.value","title":"Time (s)","titleX":218,"titleY":41,"titleAlign":"center","titleBaseline":"middle"}},
       "y":{"field":"v","type":"quantitative","scale":{"domain":[0,800],"nice":false},"axis":{"values":[100,250,400,550,700],"title":"Nadir (% of baseline)","titlePadding":3}},
       "color":{"field":"m","type":"nominal","legend":null}}}
    ]},
   {"width":6,"height":293,"data":{"values":[{}]},"mark":{"type":"text","text":""}},
   {"width":215,"height":293,
    "resolve":{"axis":{"x":"independent","y":"independent"}},
    "layer":[
     {"data":{"values":[{}]},"mark":{"type":"rule","color":"#999","strokeDash":[1.5,2.5],"strokeWidth":1.2},"encoding":{"x":{"datum":685,"type":"quantitative","scale":{"domain":[685,1000],"nice":false,"zero":false},"axis":null}}},
     {"data":{"values":[{}]},"mark":{"type":"rule","color":"#888","strokeDash":[3,3],"strokeWidth":1.5},"encoding":{"y":{"datum":100,"type":"quantitative","scale":{"domain":[0,800],"nice":false},"axis":null}}},
     {"data":{"name":"d"},"transform":[{"filter":"datum.p=='C2' && isValid(datum.e)"}],"mark":{"type":"rule","strokeWidth":1.5},
      "encoding":{"x":{"field":"t","type":"quantitative","axis":null},"y":{"field":"v","type":"quantitative","axis":null},"y2":{"field":"e"},"color":{"field":"m","type":"nominal","legend":null}}},
     {"data":{"name":"d"},"transform":[{"filter":"datum.p=='C2' && isValid(datum.e)"}],"mark":{"type":"tick","orient":"horizontal","size":7,"thickness":1.5},
      "encoding":{"x":{"field":"t","type":"quantitative","axis":null},"y":{"field":"e","type":"quantitative","axis":null},"color":{"field":"m","type":"nominal","legend":null}}},
     {"data":{"name":"d"},"transform":[{"filter":"datum.p=='C2'"}],"mark":{"type":"line","strokeWidth":1.6},
      "encoding":{"x":{"field":"t","type":"quantitative","axis":null},"y":{"field":"v","type":"quantitative","axis":null},"color":{"field":"m","type":"nominal","legend":null}}},
     {"data":{"name":"d"},"transform":[{"filter":"datum.p=='C2'"}],"mark":{"type":"point","shape":"square","filled":true,"size":36,"opacity":1},
      "encoding":{"x":{"field":"t","type":"quantitative","scale":{"domain":[685,1000],"nice":false,"zero":false},"axis":{"values":[685,700,800,900,1000],"labelExpr":"datum.value < 695 ? '' : '' + datum.value","title":null}},
       "y":{"field":"v","type":"quantitative","axis":null},"color":{"field":"m","type":"nominal","legend":null}}}
    ]},

   {"width":215,"height":124,"data":{"values":[{}]},"mark":{"type":"text","text":""}},
   {"width":6,"height":124,"data":{"values":[{}]},"mark":{"type":"text","text":""}},
   {"width":219,"height":124,"data":{"values":[{}]},"mark":{"type":"text","text":""}},
   {"width":65,"height":124,"data":{"values":[{}]},"mark":{"type":"text","text":""}},
   {"width":215,"height":124,"data":{"values":[{}]},"mark":{"type":"text","text":""}},
   {"width":6,"height":124,"data":{"values":[{}]},"mark":{"type":"text","text":""}},
   {"width":215,"height":124,"data":{"values":[{}]},"mark":{"type":"text","text":""}},

   {"hconcat":[
   {"width":212,"height":288,
    "title":{"text":"B","anchor":"start","frame":"group","dx":-47,"offset":-3,"baseline":"alphabetic","fontSize":25,"fontWeight":"bold","color":"#000"},
    "resolve":{"axis":{"x":"independent","y":"independent"}},
    "layer":[
     {"data":{"values":[{}]},"mark":{"type":"rule","color":"#999","strokeDash":[1.5,2.5],"strokeWidth":1.2},"encoding":{"x":{"datum":0,"type":"quantitative","scale":{"domain":[-90,296],"nice":false,"zero":false},"axis":null}}},
     {"data":{"values":[{}]},"mark":{"type":"rule","color":"#111","strokeDash":[6,4],"strokeWidth":2},"encoding":{"y":{"datum":100,"type":"quantitative","scale":{"domain":[0,150],"nice":false},"axis":null}}},
     {"data":{"name":"d"},"transform":[{"filter":"datum.p=='B1' && isValid(datum.e)"}],"mark":{"type":"rule","strokeWidth":1.5},
      "encoding":{"x":{"field":"t","type":"quantitative","axis":null},"y":{"field":"v","type":"quantitative","axis":null},"y2":{"field":"e"},"color":{"field":"m","type":"nominal","legend":null}}},
     {"data":{"name":"d"},"transform":[{"filter":"datum.p=='B1' && isValid(datum.e)"}],"mark":{"type":"tick","orient":"horizontal","size":7,"thickness":1.5},
      "encoding":{"x":{"field":"t","type":"quantitative","axis":null},"y":{"field":"e","type":"quantitative","axis":null},"color":{"field":"m","type":"nominal","legend":null}}},
     {"data":{"name":"d"},"transform":[{"filter":"datum.p=='B1'"}],"mark":{"type":"line","strokeWidth":1.6},
      "encoding":{"x":{"field":"t","type":"quantitative","axis":null},"y":{"field":"v","type":"quantitative","axis":null},"color":{"field":"m","type":"nominal","legend":null}}},
     {"data":{"name":"d"},"transform":[{"filter":"datum.p=='B1'"}],"mark":{"type":"point","shape":"triangle-up","filled":true,"size":45,"opacity":1},
      "encoding":{"x":{"field":"t","type":"quantitative","scale":{"domain":[-90,296],"nice":false,"zero":false},"axis":{"values":[-90,0,120,240,296],"labelExpr":"datum.value > 290 ? '' : '' + datum.value","title":"Time (s)","titleX":217,"titleY":41,"titleAlign":"center","titleBaseline":"middle"}},
       "y":{"field":"v","type":"quantitative","scale":{"domain":[0,150],"nice":false},"axis":{"values":[0,50,100,150],"title":"Peak (% of baseline)","titlePadding":4}},
       "color":{"field":"m","type":"nominal","legend":null}}}
    ]},
   {"width":10,"height":288,"data":{"values":[{}]},"mark":{"type":"text","text":""}},
   {"width":212,"height":288,
    "resolve":{"axis":{"x":"independent","y":"independent"}},
    "layer":[
     {"data":{"values":[{}]},"mark":{"type":"rule","color":"#999","strokeDash":[1.5,2.5],"strokeWidth":1.2},"encoding":{"x":{"datum":330,"type":"quantitative","scale":{"domain":[330,700],"nice":false,"zero":false},"axis":null}}},
     {"data":{"values":[{}]},"mark":{"type":"rule","color":"#111","strokeDash":[6,4],"strokeWidth":2},"encoding":{"y":{"datum":100,"type":"quantitative","scale":{"domain":[0,150],"nice":false},"axis":null}}},
     {"data":{"name":"d"},"transform":[{"filter":"datum.p=='B2' && isValid(datum.e)"}],"mark":{"type":"rule","strokeWidth":1.5},
      "encoding":{"x":{"field":"t","type":"quantitative","axis":null},"y":{"field":"v","type":"quantitative","axis":null},"y2":{"field":"e"},"color":{"field":"m","type":"nominal","legend":null}}},
     {"data":{"name":"d"},"transform":[{"filter":"datum.p=='B2' && isValid(datum.e)"}],"mark":{"type":"tick","orient":"horizontal","size":7,"thickness":1.5},
      "encoding":{"x":{"field":"t","type":"quantitative","axis":null},"y":{"field":"e","type":"quantitative","axis":null},"color":{"field":"m","type":"nominal","legend":null}}},
     {"data":{"name":"d"},"transform":[{"filter":"datum.p=='B2'"}],"mark":{"type":"line","strokeWidth":1.6},
      "encoding":{"x":{"field":"t","type":"quantitative","axis":null},"y":{"field":"v","type":"quantitative","axis":null},"color":{"field":"m","type":"nominal","legend":null}}},
     {"data":{"name":"stars"},"transform":[{"filter":"datum.p=='B2'"}],"mark":{"type":"text","fontSize":11,"fontWeight":"bold","color":"#222","baseline":"alphabetic","dy":6},
      "encoding":{"x":{"field":"t","type":"quantitative","axis":null},"y":{"field":"v","type":"quantitative","axis":null},"text":{"field":"s"}}},
     {"data":{"name":"d"},"transform":[{"filter":"datum.p=='B2'"}],"mark":{"type":"point","shape":"triangle-up","filled":true,"size":45,"opacity":1},
      "encoding":{"x":{"field":"t","type":"quantitative","scale":{"domain":[330,700],"nice":false,"zero":false},"axis":{"values":[330,360,480,600,700],"labelExpr":"datum.value < 340 ? '' : '' + datum.value","title":null}},
       "y":{"field":"v","type":"quantitative","axis":null},"color":{"field":"m","type":"nominal","legend":null}}}
    ]},
   {"width":82,"height":288,"data":{"values":[{}]},"mark":{"type":"text","text":""}},
   {"width":212,"height":288,
    "title":{"text":"D","anchor":"start","frame":"group","dx":-56,"offset":0,"baseline":"alphabetic","fontSize":25,"fontWeight":"bold","color":"#000"},
    "resolve":{"axis":{"x":"independent","y":"independent"}},
    "layer":[
     {"data":{"values":[{}]},"mark":{"type":"rule","color":"#999","strokeDash":[1.5,2.5],"strokeWidth":1.2},"encoding":{"x":{"datum":0,"type":"quantitative","scale":{"domain":[-90,666],"nice":false,"zero":false},"axis":null}}},
     {"data":{"values":[{}]},"mark":{"type":"rule","color":"#888","strokeDash":[3,3],"strokeWidth":1.5},"encoding":{"y":{"datum":100,"type":"quantitative","scale":{"domain":[0,150],"nice":false},"axis":null}}},
     {"data":{"name":"d"},"transform":[{"filter":"datum.p=='D1' && isValid(datum.e)"}],"mark":{"type":"rule","strokeWidth":1.5},
      "encoding":{"x":{"field":"t","type":"quantitative","axis":null},"y":{"field":"v","type":"quantitative","axis":null},"y2":{"field":"e"},"color":{"field":"m","type":"nominal","legend":null}}},
     {"data":{"name":"d"},"transform":[{"filter":"datum.p=='D1' && isValid(datum.e)"}],"mark":{"type":"tick","orient":"horizontal","size":7,"thickness":1.5},
      "encoding":{"x":{"field":"t","type":"quantitative","axis":null},"y":{"field":"e","type":"quantitative","axis":null},"color":{"field":"m","type":"nominal","legend":null}}},
     {"data":{"name":"d"},"transform":[{"filter":"datum.p=='D1'"}],"mark":{"type":"line","strokeWidth":1.6},
      "encoding":{"x":{"field":"t","type":"quantitative","axis":null},"y":{"field":"v","type":"quantitative","axis":null},"color":{"field":"m","type":"nominal","legend":null}}},
     {"data":{"name":"d"},"transform":[{"filter":"datum.p=='D1'"}],"mark":{"type":"point","shape":"triangle-up","filled":true,"size":45,"opacity":1},
      "encoding":{"x":{"field":"t","type":"quantitative","scale":{"domain":[-90,666],"nice":false,"zero":false},"axis":{"values":[-90,0,200,400,600,666],"labelExpr":"datum.value > 650 ? '' : '' + datum.value","title":"Time (s)","titleX":217.5,"titleY":41,"titleAlign":"center","titleBaseline":"middle"}},
       "y":{"field":"v","type":"quantitative","scale":{"domain":[0,150],"nice":false},"axis":{"values":[0,50,100,150],"title":"Peak (% of baseline)","titlePadding":3}},
       "color":{"field":"m","type":"nominal","legend":null}}}
    ]},
   {"width":11,"height":288,"data":{"values":[{}]},"mark":{"type":"text","text":""}},
   {"width":211,"height":288,
    "resolve":{"axis":{"x":"independent","y":"independent"}},
    "layer":[
     {"data":{"values":[{}]},"mark":{"type":"rule","color":"#999","strokeDash":[1.5,2.5],"strokeWidth":1.2},"encoding":{"x":{"datum":690,"type":"quantitative","scale":{"domain":[690,1000],"nice":false,"zero":false},"axis":null}}},
     {"data":{"values":[{}]},"mark":{"type":"rule","color":"#888","strokeDash":[3,3],"strokeWidth":1.5},"encoding":{"y":{"datum":100,"type":"quantitative","scale":{"domain":[0,150],"nice":false},"axis":null}}},
     {"data":{"name":"d"},"transform":[{"filter":"datum.p=='D2' && isValid(datum.e)"}],"mark":{"type":"rule","strokeWidth":1.5},
      "encoding":{"x":{"field":"t","type":"quantitative","axis":null},"y":{"field":"v","type":"quantitative","axis":null},"y2":{"field":"e"},"color":{"field":"m","type":"nominal","legend":null}}},
     {"data":{"name":"d"},"transform":[{"filter":"datum.p=='D2' && isValid(datum.e)"}],"mark":{"type":"tick","orient":"horizontal","size":7,"thickness":1.5},
      "encoding":{"x":{"field":"t","type":"quantitative","axis":null},"y":{"field":"e","type":"quantitative","axis":null},"color":{"field":"m","type":"nominal","legend":null}}},
     {"data":{"name":"d"},"transform":[{"filter":"datum.p=='D2'"}],"mark":{"type":"line","strokeWidth":1.6},
      "encoding":{"x":{"field":"t","type":"quantitative","axis":null},"y":{"field":"v","type":"quantitative","axis":null},"color":{"field":"m","type":"nominal","legend":null}}},
     {"data":{"name":"d"},"transform":[{"filter":"datum.p=='D2'"}],"mark":{"type":"point","shape":"triangle-up","filled":true,"size":45,"opacity":1},
      "encoding":{"x":{"field":"t","type":"quantitative","scale":{"domain":[690,1000],"nice":false,"zero":false},"axis":{"values":[690,700,800,900,1000],"labelExpr":"datum.value < 695 ? '' : '' + datum.value","title":null}},
       "y":{"field":"v","type":"quantitative","axis":null},"color":{"field":"m","type":"nominal","legend":null}}}
    ]}
   ],"spacing":0,"bounds":"flush"},
   {"width":1,"height":1,"data":{"values":[{}]},"mark":{"type":"text","text":""}},
   {"width":1,"height":1,"data":{"values":[{}]},"mark":{"type":"text","text":""}},
   {"width":1,"height":1,"data":{"values":[{}]},"mark":{"type":"text","text":""}},
   {"width":1,"height":1,"data":{"values":[{}]},"mark":{"type":"text","text":""}},
   {"width":1,"height":1,"data":{"values":[{}]},"mark":{"type":"text","text":""}},
   {"width":1,"height":1,"data":{"values":[{}]},"mark":{"type":"text","text":""}}
]
}
